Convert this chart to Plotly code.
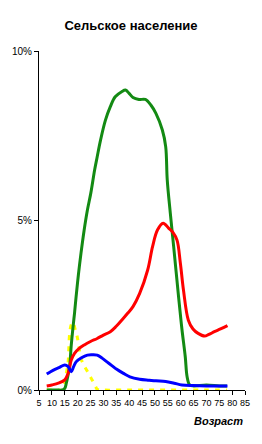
import plotly.graph_objects as go

# Ages (years) and shares (%)
green_age = [8, 10, 12, 14, 15, 15.6, 16.3, 16.9, 17.5, 18.2, 18.8, 19.4, 20.3, 21.3, 22.5, 23.8, 25.1, 26.6, 27.6, 28.9, 30.8, 32.7, 34.6, 37.1, 38.6, 40, 41.5, 43.8, 46.3, 48.5, 50.4, 52.9, 54.2, 54.8, 56, 57.3, 59.2, 60.5, 61.8, 62.5, 63.5, 65, 70, 75, 78]
green_val = [0, 0, 0, 0, 0.05, 0.2, 0.45, 0.7, 1.3, 1.85, 2.27, 2.75, 3.4, 4.03, 4.7, 5.31, 5.8, 6.49, 6.88, 7.37, 7.96, 8.36, 8.65, 8.8, 8.85, 8.75, 8.63, 8.57, 8.57, 8.4, 8.16, 7.67, 7.18, 6.2, 5.21, 4.23, 2.75, 1.8, 0.98, 0.4, 0.15, 0.12, 0.15, 0.12, 0.12]

red_age = [8, 10, 12.5, 15, 16.3, 17.5, 18.8, 20.5, 22.6, 25, 27.6, 30, 32.7, 35, 37.7, 39.5, 41.5, 44.1, 47.2, 49.1, 51, 53.2, 55.4, 57, 58.6, 59.9, 61.1, 63, 64.8, 66.8, 69.3, 71, 73.1, 75.5, 78.2]
red_val = [0.12, 0.15, 0.2, 0.3, 0.49, 0.88, 1.08, 1.22, 1.33, 1.43, 1.52, 1.62, 1.72, 1.88, 2.11, 2.27, 2.46, 2.85, 3.54, 4.23, 4.72, 4.92, 4.77, 4.65, 4.42, 3.74, 2.95, 2.06, 1.8, 1.67, 1.59, 1.64, 1.72, 1.8, 1.9]

blue_age = [8, 9.5, 11.2, 13, 15, 16.3, 17.5, 18.4, 19.4, 21.5, 23.8, 25.5, 27.6, 29.5, 31.4, 33.3, 35.2, 37.8, 40.3, 44.1, 47.8, 50.4, 54.2, 57.5, 60.5, 65, 70, 75, 78.2]
blue_val = [0.47, 0.54, 0.61, 0.67, 0.74, 0.69, 0.54, 0.68, 0.83, 0.95, 1.03, 1.04, 1.03, 0.94, 0.83, 0.72, 0.61, 0.49, 0.39, 0.32, 0.29, 0.27, 0.25, 0.2, 0.15, 0.13, 0.12, 0.12, 0.12]

yellow_age = [8, 10, 12, 14, 15, 15.6, 16.3, 16.9, 17.5, 18.2, 19, 19.7, 20.4, 21.3, 22.3, 23.5, 24.7, 26, 27, 27.6, 30, 40, 50, 60, 70, 78]
yellow_val = [0, 0, 0, 0, 0.2, 0.49, 0.83, 1.67, 1.92, 2.0, 1.8, 1.62, 1.33, 0.93, 0.75, 0.59, 0.42, 0.25, 0.1, 0.02, 0, 0, 0, 0, 0, 0]

x_ticks = list(range(5, 90, 5))
y_ticks = [0, 5, 10]
y_tick_text = ["0%", "5%", "10%"]

fig = go.Figure()
fig.add_trace(go.Scatter(x=yellow_age, y=yellow_val, mode="lines",
                         line=dict(color="#FFFF00", width=3, dash="5px,6px"), line_shape="spline"))
fig.add_trace(go.Scatter(x=green_age, y=green_val, mode="lines",
                         line=dict(color="#138A13", width=3), line_shape="spline"))
fig.add_trace(go.Scatter(x=red_age, y=red_val, mode="lines",
                         line=dict(color="#FF0000", width=3), line_shape="spline"))
fig.add_trace(go.Scatter(x=blue_age, y=blue_val, mode="lines",
                         line=dict(color="#0000FF", width=3), line_shape="spline"))

fig.update_layout(
    width=262, height=444,
    margin=dict(l=37, r=14, t=51, b=54),
    paper_bgcolor="white", plot_bgcolor="white",
    showlegend=False,
    font=dict(family="Liberation Sans, Arial, sans-serif", size=10, color="black"),
    title=dict(text="<b>Сельское население</b>", x=0.5, xref="container", xanchor="center",
               y=1 - 25 / 444, yref="container", yanchor="middle",
               font=dict(size=13, color="black")),
)
fig.update_xaxes(range=[5, 85], tickvals=x_ticks, ticks="outside", ticklen=4, tickcolor="black",
                 showline=True, linecolor="black", linewidth=1, showgrid=False, zeroline=False,
                 tickangle=0, tickfont=dict(size=9))
fig.update_yaxes(range=[0, 10], tickvals=y_ticks, ticktext=y_tick_text, ticks="outside", ticklen=4,
                 tickcolor="black", showline=True, linecolor="black", linewidth=1, showgrid=False,
                 zeroline=False, tickfont=dict(size=10))
fig.add_annotation(text="<b><i>Возраст</i></b>", xref="paper", yref="paper", x=1, y=-31 / 339,
                   xanchor="right", yanchor="middle", showarrow=False, font=dict(size=11, color="black"))

fig.write_html("out.html")
